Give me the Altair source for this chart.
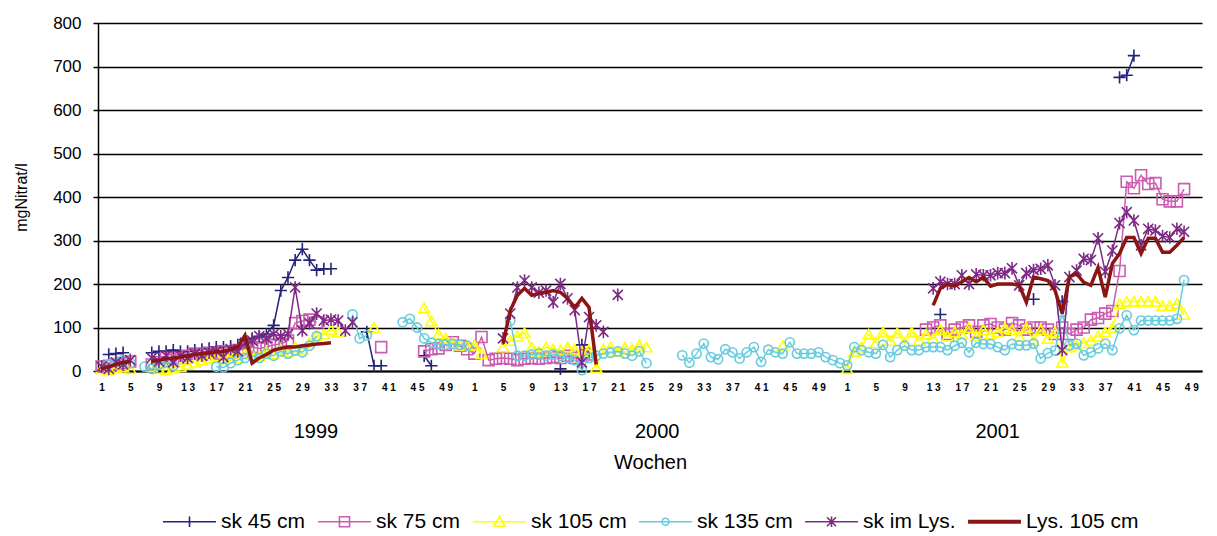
import altair as alt
import pandas as pd

# ---------------- data (week -> mg Nitrat/l) ----------------
YEARS = [1999, 2000, 2001]
WEEKS_PER_YEAR = 52

SK45_1999 = {2: 38, 3: 40, 4: 42, 8: 42, 9: 45, 10: 45, 11: 48, 12: 45, 13: 45, 14: 48, 15: 50,
             16: 52, 17: 55, 18: 55, 19: 57, 20: 60, 21: 72, 22: 75, 23: 80, 24: 85, 25: 105,
             26: 185, 27: 215, 28: 255, 29: 280, 30: 255, 31: 232, 32: 235, 33: 235,
             38: 90, 39: 12, 40: 12, 46: 35, 47: 12}
SK45_2000 = {13: 5, 16: 60, 17: 40}
SK45_2001 = {14: 130, 27: 165, 31: 160, 39: 675, 40: 680, 41: 725}

SK75_1999 = {1: 10, 2: 12, 3: 15, 4: 18, 5: 22, 8: 15, 9: 20, 10: 30, 11: 25, 12: 30, 13: 35,
             14: 40, 15: 38, 16: 42, 17: 40, 18: 45, 19: 42, 20: 48, 21: 50, 22: 55, 23: 52,
             24: 55, 25: 60, 26: 62, 27: 70, 28: 110, 29: 115, 30: 118, 31: 112,
             40: 55, 46: 45, 47: 50, 48: 52, 49: 60, 50: 66, 51: 58, 52: 50}
SK75_2000 = {1: 40, 2: 78, 3: 25, 4: 28, 5: 30, 6: 28, 7: 25, 8: 28, 9: 30, 10: 28, 11: 30,
             12: 32, 13: 30, 14: 35, 15: 30, 16: 35, 17: 38}
SK75_2001 = {12: 95, 13: 100, 14: 105, 15: 85, 16: 95, 17: 100, 18: 105, 19: 90, 20: 105,
             21: 108, 22: 100, 23: 95, 24: 110, 25: 105, 26: 95, 27: 100, 28: 100, 29: 95,
             30: 85, 31: 100, 32: 85, 33: 95, 34: 100, 35: 118, 36: 122, 37: 132, 38: 138,
             39: 230, 40: 435, 41: 420, 42: 450, 43: 430, 44: 432, 45: 395, 46: 390, 47: 390,
             48: 418}

SK105_1999 = {1: 5, 2: 3, 3: 8, 4: 10, 5: 5, 8: 10, 9: 5, 10: 3, 11: 8, 12: 10, 13: 15, 14: 20,
              15: 25, 16: 30, 17: 35, 18: 28, 19: 35, 20: 30, 21: 40, 22: 38, 23: 35, 24: 45,
              25: 40, 26: 50, 27: 45, 28: 55, 29: 50, 30: 65, 31: 80, 32: 85, 33: 95, 34: 90,
              39: 100, 46: 145, 47: 115, 48: 85, 49: 75, 50: 65, 51: 60, 52: 58}
SK105_2000 = {1: 60, 2: 40, 5: 55, 6: 70, 7: 80, 8: 88, 9: 55, 10: 45, 11: 55, 12: 50, 13: 48,
              14: 55, 15: 50, 16: 45, 17: 50, 18: 8, 19: 50, 20: 55, 21: 45, 22: 55, 23: 50,
              24: 60, 25: 55, 44: 58}
SK105_2001 = {1: 5, 2: 45, 3: 55, 4: 85, 5: 65, 6: 90, 7: 70, 8: 88, 9: 65, 10: 90, 11: 70,
              12: 85, 13: 75, 14: 95, 15: 80, 16: 90, 17: 85, 18: 100, 19: 80, 20: 95, 21: 85,
              22: 90, 23: 100, 24: 95, 25: 80, 26: 100, 27: 70, 28: 95, 29: 75, 30: 90, 31: 20,
              32: 55, 33: 60, 34: 65, 35: 70, 36: 80, 37: 90, 38: 100, 39: 155, 40: 160,
              41: 160, 42: 160, 43: 160, 44: 160, 45: 150, 46: 150, 47: 155, 48: 130}

SK135_1999 = {2: 15, 3: 20, 4: 25, 5: 18, 7: 10, 8: 5, 9: 15, 10: 20, 11: 12, 17: 10, 18: 8,
              19: 18, 20: 25, 21: 30, 22: 35, 23: 30, 24: 40, 25: 35, 26: 45, 27: 40, 28: 47,
              29: 43, 30: 58, 31: 80, 36: 130, 37: 75, 38: 82, 43: 112, 44: 120, 45: 100,
              46: 75, 47: 65, 48: 62, 49: 60, 50: 62, 51: 60, 52: 58}
SK135_2000 = {6: 115, 7: 35, 8: 35, 9: 38, 10: 40, 11: 35, 12: 38, 13: 35, 14: 30, 15: 25,
              16: 2, 17: 30, 18: 35, 19: 40, 20: 42, 21: 45, 22: 40, 23: 35, 24: 45, 25: 18,
              30: 36, 31: 19, 32: 40, 33: 63, 34: 32, 35: 27, 36: 50, 37: 43, 38: 29, 39: 43,
              40: 55, 41: 21, 42: 49, 43: 43, 44: 40, 45: 66, 46: 40, 47: 40, 48: 40, 49: 43,
              50: 32, 51: 25, 52: 18}
SK135_2001 = {1: 13, 2: 55, 3: 48, 4: 43, 5: 40, 6: 60, 7: 32, 8: 48, 9: 58, 10: 48, 11: 48,
              12: 55, 13: 55, 14: 55, 15: 48, 16: 58, 17: 65, 18: 43, 19: 65, 20: 62, 21: 62,
              22: 55, 23: 48, 24: 62, 25: 59, 26: 59, 27: 63, 28: 29, 29: 41, 30: 47, 31: 135,
              32: 59, 33: 63, 34: 36, 35: 43, 36: 52, 37: 63, 38: 48, 39: 98, 40: 128, 41: 94,
              42: 116, 43: 116, 44: 116, 45: 116, 46: 116, 47: 120, 48: 209}

SKLYS_1999 = {1: 10, 2: 5, 3: 20, 4: 15, 5: 25, 8: 30, 9: 22, 10: 35, 11: 20, 12: 35, 13: 30,
              14: 40, 15: 35, 16: 42, 17: 45, 18: 32, 19: 50, 20: 45, 21: 65, 22: 70, 23: 80,
              24: 75, 25: 85, 26: 80, 27: 85, 28: 192, 29: 93, 30: 110, 31: 132, 32: 116,
              33: 118, 34: 116, 35: 93, 36: 112}
SKLYS_2000 = {5: 75, 6: 132, 7: 192, 8: 208, 9: 192, 10: 180, 11: 185, 12: 158, 13: 200,
              14: 167, 15: 140, 16: 20, 17: 124, 18: 105, 19: 90, 21: 175}
SKLYS_2001 = {13: 190, 14: 205, 15: 200, 16: 200, 17: 220, 18: 200, 19: 222, 20: 220, 21: 220,
              22: 225, 23: 225, 24: 236, 25: 197, 26: 225, 27: 232, 28: 235, 29: 243, 30: 197,
              31: 48, 32: 216, 33: 231, 34: 258, 35: 255, 36: 305, 37: 228, 38: 277, 39: 340,
              40: 365, 41: 346, 42: 289, 43: 327, 44: 323, 45: 310, 46: 307, 47: 327, 48: 320}

LYS105_1999 = {1: 5, 2: 10, 3: 15, 4: 20, 5: 22, 8: 22, 9: 25, 10: 28, 11: 30, 12: 32, 13: 35,
               14: 38, 15: 40, 16: 42, 17: 45, 18: 45, 19: 50, 20: 55, 21: 82, 22: 18, 23: 30,
               24: 38, 25: 48, 26: 52, 27: 55, 28: 55, 29: 58, 30: 60, 31: 62, 32: 63, 33: 65}
LYS105_2000 = {5: 63, 6: 139, 7: 174, 8: 190, 9: 174, 10: 178, 11: 181, 12: 185, 13: 181,
               14: 167, 15: 146, 16: 167, 17: 146, 18: 15}
LYS105_2001 = {13: 151, 14: 190, 15: 200, 16: 195, 17: 205, 18: 215, 19: 205, 20: 215, 21: 195,
               22: 200, 23: 200, 24: 200, 25: 197, 26: 158, 27: 216, 28: 212, 29: 208, 30: 185,
               31: 132, 32: 216, 33: 224, 34: 204, 35: 197, 36: 238, 37: 170, 38: 247, 39: 270,
               40: 307, 41: 307, 42: 270, 43: 305, 44: 305, 45: 273, 46: 273, 47: 289, 48: 307}

SERIES = ["sk 45 cm", "sk 75 cm", "sk 105 cm", "sk 135 cm", "sk im Lys.", "Lys. 105 cm"]
SERIES_DATA = [
    [SK45_1999, SK45_2000, SK45_2001],
    [SK75_1999, SK75_2000, SK75_2001],
    [SK105_1999, SK105_2000, SK105_2001],
    [SK135_1999, SK135_2000, SK135_2001],
    [SKLYS_1999, SKLYS_2000, SKLYS_2001],
    [LYS105_1999, LYS105_2000, LYS105_2001],
]
COLORS = ["#22237A", "#CC5CB0", "#FFFF00", "#66CCDD", "#7D2A85", "#8B1515"]

YEAR_LABELS = ["1999", "2000", "2001"]
YEAR_LABEL_POS = [29.9, 77.5, 125.0]      # category index under which each year label sits
TICK_WEEKS = list(range(1, 50, 4))        # 1, 5, ..., 49 in each year

# ---------------- build table ----------------
rows = []
for name, per_year in zip(SERIES, SERIES_DATA):
    seg = 0
    prev = None
    for yi, ydata in enumerate(per_year):
        for w in range(1, WEEKS_PER_YEAR + 1):
            idx = yi * WEEKS_PER_YEAR + w - 1
            v = ydata.get(w)
            if v is None:
                continue
            if prev is None or prev != idx - 1:
                seg += 1
            rows.append({"series": name, "idx": idx, "value": v, "seg": f"{name}-{seg}"})
            prev = idx
df = pd.DataFrame(rows)

tick_idx = [yi * WEEKS_PER_YEAR + w - 1 for yi in range(3) for w in TICK_WEEKS]
years_df = pd.DataFrame({"label": YEAR_LABELS, "idx": YEAR_LABEL_POS})

W, H = 1104, 348
FONT = "Liberation Sans"

week_expr = "(datum.value % 52 + 1)"
label_expr = (f"{week_expr} < 10 ? toString({week_expr}) : "
              f"toString(floor({week_expr} / 10)) + ' ' + toString({week_expr} % 10)")

x_enc = alt.X("idx:Q",
              scale=alt.Scale(domain=[-0.5, 153.5], nice=False, zero=False),
              axis=alt.Axis(values=tick_idx, labelExpr=label_expr, title="Wochen",
                            ticks=False, grid=False, domainColor="black", domainWidth=2,
                            labelFont=FONT, labelFontWeight="bold", labelFontSize=10,
                            labelColor="black", labelPadding=11, labelFlush=False,
                            labelOverlap=False, titleFont=FONT, titleFontSize=20,
                            titleFontWeight="normal", titleColor="black", titlePadding=60))
y_enc = alt.Y("value:Q",
              scale=alt.Scale(domain=[0, 800], nice=False),
              axis=alt.Axis(values=list(range(0, 801, 100)), title="mgNitrat/l",
                            grid=True, gridColor="black", gridWidth=1.5,
                            domainColor="black", domainWidth=1.5,
                            tickColor="black", tickSize=5, tickWidth=1.5,
                            labelFont=FONT, labelFontSize=17, labelColor="black",
                            labelPadding=12, titleFont=FONT, titleFontSize=16,
                            titleFontWeight="normal", titleColor="black", titlePadding=23))

MARKERS = [
    ("M0,-1V1M-1,0H1", 150),
    ("square", 121),
    ("triangle-up", 120),
    ("circle", 85),
    ("M0,-1V1M-0.8,-0.8L0.8,0.8M-0.8,0.8L0.8,-0.8", 160),
    (None, 0),
]
LINE_W = [1.5, 1.5, 1.5, 1.5, 1.5, 3.5]

base = alt.Chart(df)
layers = []
for name, col, (shape, size), lw in zip(SERIES, COLORS, MARKERS, LINE_W):
    sub = base.transform_filter(alt.datum.series == name)
    layers.append(sub.mark_line(strokeWidth=lw, color=col, clip=False).encode(
        x=x_enc, y=y_enc, detail="seg:N"))
    if shape is not None:
        layers.append(sub.mark_point(filled=False, shape=shape, size=size, color=col,
                                     strokeWidth=1.6, opacity=1).encode(x=x_enc, y=y_enc))

years = alt.Chart(years_df).mark_text(font=FONT, fontSize=20, color="black",
                                      baseline="middle").encode(
    x=x_enc, y=alt.value(H + 61), text="label:N")

LEG_SIZE = 2800
LEG_PATHS = [
    "M-1,0H1M0,-0.2V0.2",
    "M-1,0H1M-0.19,-0.19H0.19V0.19H-0.19Z",
    "M-1,0H1M0,-0.2L0.21,0.17L-0.21,0.17Z",
    "M-1,0H1M0.13,0A0.13,0.13 0 1,1 -0.13,0A0.13,0.13 0 1,1 0.13,0",
    "M-1,0H1M0,-0.2V0.2M-0.17,-0.17L0.17,0.17M-0.17,0.17L0.17,-0.17",
    "M-1,-0.045H1M-1,0H1M-1,0.045H1",
]
leg_df = pd.DataFrame({"series": SERIES})
legend = alt.Legend(orient="none", legendX=64, legendY=471, direction="horizontal",
                    title=None, labelFont=FONT, labelFontSize=21, labelColor="black",
                    symbolSize=LEG_SIZE, symbolStrokeWidth=1.6, symbolOpacity=1,
                    symbolFillColor="transparent", labelOffset=4, columnPadding=8)
legend_layer = alt.Chart(leg_df).mark_point(filled=False, opacity=0, size=LEG_SIZE).encode(
    x=alt.value(0), y=alt.value(0),
    color=alt.Color("series:N", scale=alt.Scale(domain=SERIES, range=COLORS), legend=legend),
    shape=alt.Shape("series:N", scale=alt.Scale(domain=SERIES, range=LEG_PATHS), legend=legend),
)

chart = alt.layer(*layers, years, legend_layer).properties(
    width=W, height=H,
    padding={"left": 98, "top": 23, "right": 15, "bottom": 165},
    autosize=alt.AutoSizeParams(type="none"),
    background="white",
).configure_view(stroke=None)

chart.save("out.html", embed_options={"renderer": "svg", "actions": False})
